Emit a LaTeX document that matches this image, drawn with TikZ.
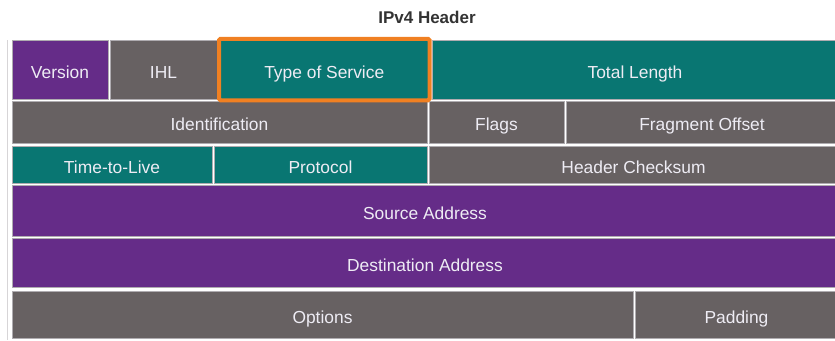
\documentclass[tikz,border=0pt]{standalone}
\usepackage{fontspec}
\setmainfont{Liberation Sans}
\definecolor{hdrpurple}{RGB}{101,44,136}
\definecolor{hdrteal}{RGB}{9,118,114}
\definecolor{hdrgray}{RGB}{103,97,98}
\definecolor{hdrorange}{RGB}{240,128,34}
\definecolor{hdredge}{RGB}{175,172,176}
\definecolor{hdrtext}{RGB}{238,236,244}
\tikzset{
	field/.style={anchor=north west, draw=hdredge, line width=0.6pt, inner sep=0pt, outer sep=0pt,
		text=hdrtext, text height=17pt, text depth=0pt, font=\fontsize{17.4}{19}\selectfont},
	hilite/.style={draw=hdrorange, line width=4pt, rounded corners=1.5pt},
}

\begin{document}
\begin{tikzpicture}[x=1pt,y=-1pt]
	\useasboundingbox (0,0) rectangle (835,340);
	\draw[hdredge!50,line width=0.8pt] (7,40) -- (7,340);
	
	\node[font=\bfseries\fontsize{17}{19}\selectfont, text={rgb,255:red,51;green,51;blue,51}] (title) at (427,17) {IPv4 Header};
	
	% row 1
	\node[field, fill=hdrpurple, minimum width=96, minimum height=59] (version) at (12,40) {Version};
	\node[field, fill=hdrgray, minimum width=107, minimum height=59] (ihl) at (110,40) {IHL};
	\node[field, fill=hdrteal, draw=hdrteal, minimum width=210.5, minimum height=61.5] (tos) at (219,38.75) {Type of Service};
	\node[field, fill=hdrteal, minimum width=406, minimum height=59] (totlen) at (432,40) {Total Length};
	
	% row 2
	\node[field, fill=hdrgray, minimum width=415, minimum height=42] (ident) at (12,101) {Identification};
	\node[field, fill=hdrgray, minimum width=135, minimum height=42] (flags) at (429,101) {Flags};
	\node[field, fill=hdrgray, minimum width=272, minimum height=42] (fragoff) at (566,101) {Fragment Offset};
	
	% row 3
	\node[field, fill=hdrteal, minimum width=200, minimum height=37] (ttl) at (12,146) {Time-to-Live};
	\node[field, fill=hdrteal, minimum width=213, minimum height=37] (proto) at (214,146) {Protocol};
	\node[field, fill=hdrgray, minimum width=409, minimum height=37] (chksum) at (429,146) {Header Checksum};
	
	% rows 4-5
	\node[field, fill=hdrpurple, minimum width=826, minimum height=51] (srcaddr) at (12,185) {Source Address};
	\node[field, fill=hdrpurple, minimum width=826, minimum height=49] (dstaddr) at (12,238) {Destination Address};
	
	% row 6
	\node[field, fill=hdrgray, minimum width=621, minimum height=47] (options) at (12,291) {Options};
	\node[field, fill=hdrgray, minimum width=203, minimum height=47] (padding) at (635,291) {Padding};
	
	% highlighted field
	\draw[hilite] (tos.north west) rectangle (tos.south east);
\end{tikzpicture}
\end{document}
